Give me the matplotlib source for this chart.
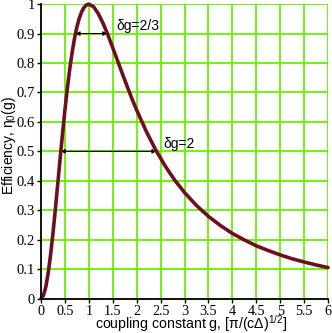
import matplotlib.pyplot as plt

# coupling constant g and efficiency
g_vals = [0.0, 0.05, 0.1, 0.15, 0.2, 0.25, 0.3, 0.35, 0.4, 0.45, 0.5, 0.55,
          0.6, 0.65, 0.7, 0.75, 0.8, 0.85, 0.9, 0.95, 1.0, 1.1, 1.2, 1.3,
          1.4, 1.5, 1.6, 1.7, 1.8, 1.9, 2.0, 2.2, 2.4, 2.6, 2.8, 3.0, 3.25,
          3.5, 3.75, 4.0, 4.25, 4.5, 4.75, 5.0, 5.25, 5.5, 5.75, 6.0]
eta_vals = [0.0, 0.010, 0.039, 0.086, 0.148, 0.221, 0.303, 0.389, 0.476,
            0.560, 0.640, 0.713, 0.779, 0.835, 0.883, 0.922, 0.952, 0.974,
            0.989, 0.997, 1.0, 0.991, 0.967, 0.934, 0.895, 0.852, 0.808,
            0.764, 0.721, 0.679, 0.640, 0.568, 0.504, 0.449, 0.401, 0.360,
            0.316, 0.279, 0.248, 0.221, 0.199, 0.179, 0.163, 0.148, 0.135,
            0.124, 0.114, 0.105]

# widths marked with arrows
half_level = 0.5
half_left, half_right = 0.414, 2.414
top_level = 0.9
top_left, top_right = 0.721, 1.387

x_ticks = [0, 0.5, 1, 1.5, 2, 2.5, 3, 3.5, 4, 4.5, 5, 5.5, 6]
x_labels = ['0', '0.5', '1', '1.5', '2', '2.5', '3', '3.5', '4', '4.5', '5', '5.5', '6']
y_ticks = [0, 0.1, 0.2, 0.3, 0.4, 0.5, 0.6, 0.7, 0.8, 0.9, 1]
y_labels = ['0', '0.1', '0.2', '0.3', '0.4', '0.5', '0.6', '0.7', '0.8', '0.9', '1']

plt.rcParams['font.family'] = ['Liberation Sans', 'DejaVu Sans']
plt.rcParams['mathtext.fontset'] = 'custom'
plt.rcParams['mathtext.rm'] = 'Liberation Sans'
plt.rcParams['mathtext.it'] = 'Liberation Sans'

fig = plt.figure(figsize=(3.32, 3.33), dpi=100)
ax = fig.add_axes([0.1235, 0.1036, 0.8645, 0.884])

ax.set_xlim(0, 6)
ax.set_ylim(0, 1)
ax.set_xticks(x_ticks)
ax.set_xticklabels(x_labels, family='Liberation Serif', fontsize=10.2)
ax.set_yticks(y_ticks)
ax.set_yticklabels(y_labels, family='Liberation Serif', fontsize=10.5)
ax.tick_params(length=3, width=1, pad=1.5)

ax.grid(True, color='#66f000', linewidth=1.3)
ax.set_axisbelow(True)
for s in ['top', 'right']:
  ax.spines[s].set_visible(False)
for s in ['left', 'bottom']:
  ax.spines[s].set_linewidth(1.3)
  ax.spines[s].set_zorder(5)

ax.plot(g_vals, eta_vals, color='#6e0f1e', linewidth=2.6, clip_on=False,
        solid_capstyle='round', zorder=4)

arrow = dict(arrowstyle='<|-|>', color='black', lw=0.8,
             mutation_scale=6, shrinkA=0, shrinkB=0)
ax.annotate('', xy=(top_right, top_level), xytext=(top_left, top_level),
            arrowprops=arrow, zorder=3)
ax.annotate('', xy=(half_right, half_level), xytext=(half_left, half_level),
            arrowprops=arrow, zorder=3)
ax.text(1.58, 0.925, 'δg=2/3', fontsize=10, va='center', ha='left')
ax.text(2.55, 0.526, 'δg=2', fontsize=10, va='center', ha='left')

ax.set_xlabel(r'coupling constant g, [π/(cΔ)$^{1/2}$]', fontsize=10.2)
ax.xaxis.label.set_ha('left')
ax.xaxis.label.set_va('baseline')
ax.xaxis.set_label_coords(0.188, -0.102)
ax.set_ylabel(r'Efficiency, η$_0$(g)', fontsize=10)
ax.yaxis.set_label_coords(-0.079, 0.521)

fig.savefig('out.png', dpi=100)
